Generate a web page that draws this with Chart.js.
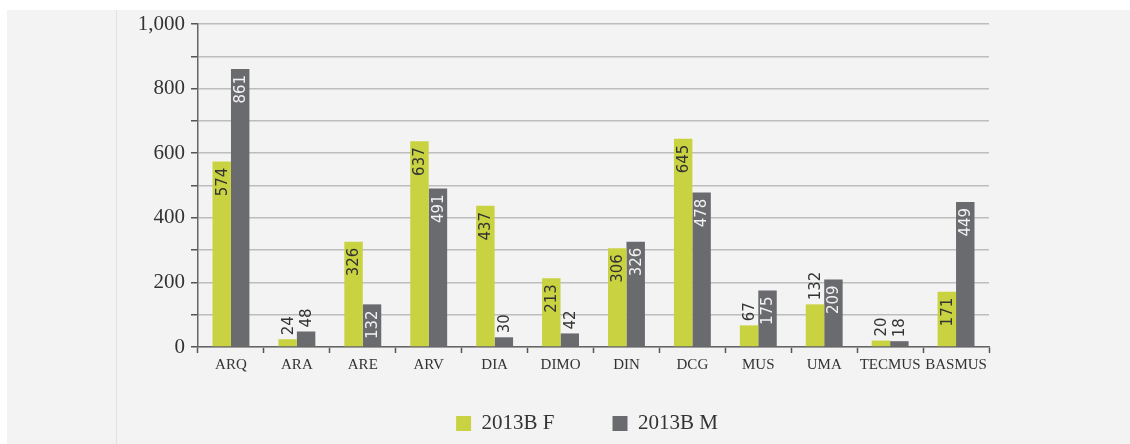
<!DOCTYPE html>
<html>
<head>
<meta charset="utf-8">
<script src="https://cdn.jsdelivr.net/npm/chart.js@4/dist/chart.umd.min.js"></script>
<style>
  html, body { margin: 0; padding: 0; background: #fff; }
  canvas { display: block; }
</style>
</head>
<body>
<canvas id="chart" width="1130" height="444"></canvas>
<script>
// data
const categories = ['ARQ', 'ARA', 'ARE', 'ARV', 'DIA', 'DIMO', 'DIN', 'DCG', 'MUS', 'UMA', 'TECMUS', 'BASMUS'];
const valuesF = [574, 24, 326, 637, 437, 213, 306, 645, 67, 132, 20, 171];
const valuesM = [861, 48, 132, 491, 30, 42, 326, 478, 175, 209, 18, 449];
const seriesNames = ['2013B F', '2013B M'];
// which labels sit above the bar instead of inside it
const outsideF = [false, true, false, false, false, false, false, false, true, true, true, false];
const outsideM = [false, true, false, false, true, true, false, false, false, false, true, false];

const serif = "'Liberation Serif', serif";

const backgroundPlugin = {
    id: 'bg',
    beforeDraw(chart) {
        const c = chart.ctx;
        c.save();
        c.fillStyle = '#ffffff';
        c.fillRect(0, 0, chart.width, chart.height);
        c.fillStyle = '#f3f3f3';
        c.fillRect(7, 10, chart.width - 7, chart.height - 10);
        c.strokeStyle = '#e2e2e2';
        c.lineWidth = 1;
        c.beginPath();
        c.moveTo(116.5, 10);
        c.lineTo(116.5, chart.height);
        c.stroke();
        c.restore();
    }
};

// move the legend so it is centred like the original, and give x labels room
const layoutFix = {
    id: 'layoutFix',
    afterLayout(chart) {
        chart.legend.left = 185;
        chart.legend.right = 989;
        chart.scales.x.bottom = chart.scales.x.top + 40;
    }
};

const labelPlugin = {
    id: 'barLabels',
    afterDatasetsDraw(chart) {
        const c = chart.ctx;
        c.save();
        c.font = "15px 'DejaVu Sans', sans-serif";
        c.textBaseline = 'middle';
        chart.data.datasets.forEach((ds, di) => {
            const meta = chart.getDatasetMeta(di);
            const outside = di === 0 ? outsideF : outsideM;
            meta.data.forEach((bar, i) => {
                const txt = String(ds.data[i]);
                c.save();
                if (outside[i]) {
                    c.translate(bar.x, bar.y - 4);
                    c.rotate(-Math.PI / 2);
                    c.textAlign = 'left';
                    c.fillStyle = '#333333';
                } else {
                    c.translate(bar.x, bar.y + 6);
                    c.rotate(-Math.PI / 2);
                    c.textAlign = 'right';
                    c.fillStyle = di === 0 ? '#333333' : '#f2f2f2';
                }
                c.fillText(txt, 0, 1);
                c.restore();
            });
        });
        c.restore();
    }
};

new Chart(document.getElementById('chart'), {
    type: 'bar',
    data: {
        labels: categories,
        datasets: [{
            label: seriesNames[0],
            data: valuesF,
            backgroundColor: '#c9d341',
            categoryPercentage: 0.56,
            barPercentage: 1.0
        }, {
            label: seriesNames[1],
            data: valuesM,
            backgroundColor: '#6a6b6f',
            categoryPercentage: 0.56,
            barPercentage: 1.0
        }]
    },
    options: {
        responsive: false,
        animation: false,
        layout: { padding: { left: 0, right: 141, top: 24, bottom: 0 } },
        plugins: {
            tooltip: { enabled: false },
            legend: {
                position: 'bottom',
                labels: {
                    boxWidth: 15,
                    boxHeight: 15,
                    padding: 58,
                    color: '#333',
                    font: { family: serif, size: 21 }
                }
            }
        },
        scales: {
            x: {
                grid: {
                    drawOnChartArea: false,
                    offset: true,
                    tickLength: 6,
                    tickColor: '#555',
                    tickWidth: 1.5
                },
                border: { color: '#666', width: 1.5 },
                ticks: {
                    color: '#333',
                    padding: 3,
                    maxRotation: 0,
                    autoSkip: false,
                    font: { family: serif, size: 15 }
                },
                afterFit(scale) {
                    scale.height = 444 - 347 - scale.chart.legend.height;
                }
            },
            y: {
                min: 0,
                max: 1000,
                grid: {
                    color: '#bdbdbd',
                    lineWidth: 1.5,
                    tickLength: 7,
                    tickColor: '#555',
                    tickWidth: 1.5
                },
                border: { color: '#666', width: 1.5 },
                ticks: {
                    stepSize: 100,
                    color: '#333',
                    padding: 6,
                    font: { family: serif, size: 21 },
                    callback: v => (v % 200 === 0 ? v.toLocaleString('en-US') : '')
                },
                afterFit(scale) {
                    scale.width = 198;
                }
            }
        }
    },
    plugins: [backgroundPlugin, layoutFix, labelPlugin]
});
</script>
</body>
</html>
